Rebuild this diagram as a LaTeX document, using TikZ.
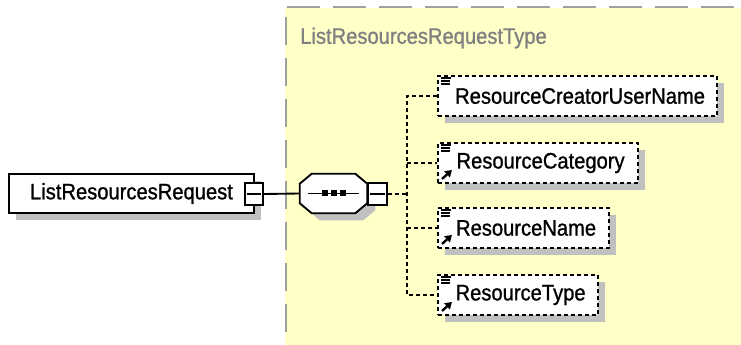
\documentclass[tikz,border=0pt]{standalone}
\usepackage{fontspec}
\setmainfont{Liberation Sans}[FakeStretch=0.9, FakeBold=1]
\usepackage{tikz}
\usetikzlibrary{arrows.meta, positioning, calc, shadows}

\definecolor{typefill}{RGB}{255,255,200}
\definecolor{typeborder}{RGB}{160,160,160}
\definecolor{shadowgray}{RGB}{192,192,192}
\definecolor{titlegray}{RGB}{128,128,128}

\tikzset{
    elem/.style={draw, fill=white, line width=1.4pt, minimum height=29.25pt, inner sep=0pt,
        font=\fontsize{16.8}{18}\selectfont,
        general shadow={fill=shadowgray, shadow xshift=5.25pt, shadow yshift=-5.25pt}},
    childelem/.style={elem, minimum height=30pt, dash pattern=on 3pt off 2.25pt, anchor=west},
    expbox/.style={draw, fill=white, line width=1.4pt, minimum width=13.5pt, minimum height=16.5pt, inner sep=0pt},
    link/.style={line width=1.4pt},
    dlink/.style={line width=1.4pt, dash pattern=on 3pt off 2.25pt},
    icon/.style={line width=1.4pt},
}

\begin{document}
\begin{tikzpicture}[x=0.75pt, y=-0.75pt]
    % one unit = one pixel of the reference, y grows downwards
    \useasboundingbox (0,0) rectangle (741,345);

    % complex type area
    \fill[typefill] (285,8) rectangle (741,345);
    \draw[typeborder, line width=1.6pt, dash pattern=on 24.75pt off 9.75pt] (287,7) -- (741,7);
    \draw[typeborder, line width=1.6pt, dash pattern=on 21pt off 9.75pt] (286,17) -- (286,345);
    \node[anchor=west, inner sep=0pt, text=titlegray, font=\fontsize{16.8}{18}\selectfont] (typename) at (300,38) {ListResourcesRequestType};

    % root element
    \node[elem, minimum width=183.75pt] (root) at (131.5,193.5) {ListResourcesRequest};
    \node[expbox] (rootexp) at (254,194) {};
    \draw[icon] ($(rootexp.west)+(3,0)$) -- ($(rootexp.east)+(-3,0)$);

    % sequence compositor
    \node[minimum width=50.25pt, minimum height=29.25pt, inner sep=0pt] (seq) at (333.5,193.5) {};
    \draw[link] (rootexp.east) -- (seq.west);
    \draw[line width=1.4pt, fill=white, general shadow={fill=shadowgray, shadow xshift=6pt, shadow yshift=-5.25pt}]
        ($(seq.north west)+(12,0)$) -- ($(seq.north east)+(-12,0)$) -- ($(seq.north east)+(0,10)$)
        -- ($(seq.south east)+(0,-10)$) -- ($(seq.south east)+(-12,0)$) -- ($(seq.south west)+(12,0)$)
        -- ($(seq.south west)+(0,-10)$) -- ($(seq.north west)+(0,10)$) -- cycle;
    \draw[link] ($(seq.center)+(-26,0)$) -- ($(seq.center)+(25,0)$);
    \fill ($(seq.center)+(-12,-3)$) rectangle ++(6,6);
    \fill ($(seq.center)+(-3,-3)$) rectangle ++(6,6);
    \fill ($(seq.center)+(6,-3)$) rectangle ++(6,6);
    \node[expbox, minimum width=14.25pt] (seqexp) at (377.5,194) {};
    \draw[icon] ($(seqexp.west)+(3,0)$) -- ($(seqexp.east)+(-3,0)$);

    % child elements
    \node[childelem, minimum width=209.25pt] (creator) at (437,96) {\hspace{4pt}ResourceCreatorUserName};
    \node[childelem, minimum width=150pt] (category) at (437,163) {\hspace{4pt}ResourceCategory};
    \node[childelem, minimum width=128.25pt] (resname) at (437,228) {\hspace{4pt}ResourceName};
    \node[childelem, minimum width=120pt] (restype) at (437,295) {\hspace{4pt}ResourceType};

    % connectors to the children
    \coordinate (trunk) at (407,194);
    \draw[dlink] (seqexp.east) -- (trunk);
    \draw[dlink] (creator.west) -- (creator.west -| trunk) -- (restype.west -| trunk) -- (restype.west);
    \draw[dlink] (category.west -| trunk) -- (category.west);
    \draw[dlink] (resname.west -| trunk) -- (resname.west);

    % icons: element with simple content
    \draw[icon] ($(creator.north west)+(4,3)$) -- ++(10,0) ($(creator.north west)+(4,6)$) -- ++(9,0) ($(creator.north west)+(4,9)$) -- ++(9,0);
    \draw[icon] ($(category.north west)+(4,3)$) -- ++(10,0) ($(category.north west)+(4,6)$) -- ++(9,0) ($(category.north west)+(4,9)$) -- ++(9,0);
    \draw[icon] ($(resname.north west)+(4,3)$) -- ++(10,0) ($(resname.north west)+(4,6)$) -- ++(9,0) ($(resname.north west)+(4,9)$) -- ++(9,0);
    \draw[icon] ($(restype.north west)+(4,3)$) -- ++(10,0) ($(restype.north west)+(4,6)$) -- ++(9,0) ($(restype.north west)+(4,9)$) -- ++(9,0);

    % icons: reference arrows
    \draw[icon, line width=1.8pt, -{Triangle[length=5pt, width=6pt]}] ($(category.south west)+(5,-5)$) -- ++(10,-9);
    \draw[icon, line width=1.8pt, -{Triangle[length=5pt, width=6pt]}] ($(resname.south west)+(5,-5)$) -- ++(10,-9);
    \draw[icon, line width=1.8pt, -{Triangle[length=5pt, width=6pt]}] ($(restype.south west)+(5,-5)$) -- ++(10,-9);
\end{tikzpicture}
\end{document}
